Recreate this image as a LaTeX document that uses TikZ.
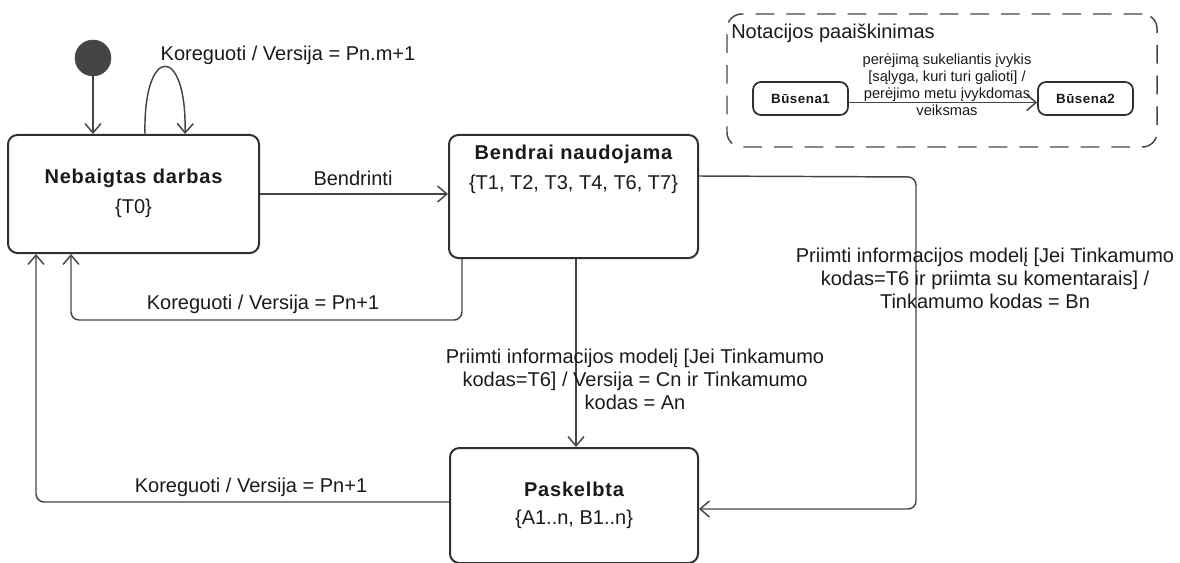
\documentclass[tikz,border=0pt]{standalone}
\usepackage{fontspec}
\setmainfont{Liberation Sans}
\usetikzlibrary{arrows.meta,calc}
\definecolor{lc}{HTML}{454545}
\definecolor{bc}{HTML}{303030}
\definecolor{tc}{HTML}{1A1A1A}
\newcommand{\wbf}[1]{{\bfseries\addfontfeature{LetterSpace=4}#1}}
\begin{document}
\begin{tikzpicture}[x=0.75pt,y=-0.75pt,
  conn/.style={draw=lc, line width=1.1pt},
  arr/.style={conn, -{Straight Barb[length=7pt,width=12pt]}, rounded corners=6pt},
  statebox/.style={draw=bc, line width=1.5pt, rounded corners=7pt, inner sep=0pt},
  smallbox/.style={draw=bc, line width=1.3pt, rounded corners=6pt, inner sep=0pt, text=tc,
    font=\fontsize{10pt}{12pt}\selectfont},
  lab/.style={font=\fontsize{15pt}{17.25pt}\selectfont, align=center, inner sep=0pt, text=tc},
  smalllab/.style={font=\fontsize{11pt}{12.75pt}\selectfont, align=center, inner sep=0pt, text=tc},
]
\useasboundingbox (0,0) rectangle (1180,563);

% states
\node[circle, fill=lc, draw=lc, minimum size=27pt, inner sep=0pt] (init) at (93,58) {};
\node[statebox, minimum width=188.25pt, minimum height=88.5pt] (neb) at (133.5,194) {};
\node[lab] (nebt) at (133.5,193) {\wbf{Nebaigtas darbas}\\[5.25pt]\{T0\}};
\node[statebox, minimum width=186.75pt, minimum height=92.25pt] (ben) at (573.5,196.5) {};
\node[lab] (bent) at (573.5,169) {\wbf{Bendrai naudojama}\\[5.25pt]\{T1, T2, T3, T4, T6, T7\}};
\node[statebox, minimum width=186pt, minimum height=86.25pt] (pas) at (574,505.5) {};
\node[lab] (past) at (574,505) {\wbf{Paskelbta}\\[3.75pt]\{A1..n, B1..n\}};

% helper coordinates
\coordinate (k1) at (71,320);
\coordinate (k2) at (36,502);
\coordinate (k3) at (916,177);
\coordinate (k4) at (916,509);
\coordinate (bs) at ($(ben.south west)+(128,0)$);
\coordinate (bk) at ($(ben.south west)+(14,0)$);

% connectors
\draw[arr] (init.south) -- (init.south |- neb.north);
\draw[arr] ($(neb.north)+(11.5,0)$) .. controls ($(neb.north)+(9.5,-90)$) and ($(neb.north)+(53.5,-90)$) .. ($(neb.north)+(51.5,0)$);
\draw[arr] (neb.east) -- (neb.east -| ben.west);
\draw[arr] (bk) |- (k1) -- (k1 |- neb.south);
\draw[arr] (bs) -- (bs |- pas.north);
\draw[arr] ($(pas.west)+(0,-3.5)$) -- (k2) -- (k2 |- neb.south);
\draw[arr] ($(ben.north east)+(0,42)$) -- (k3) -- (k4) -- (k4 -| pas.east);

% connector labels
\node[lab] (l1) at (288,55) {Koreguoti / Versija = Pn.m+1};
\node[lab] (l2) at (353,178) {Bendrinti};
\node[lab] (l3) at (263,304) {Koreguoti / Versija = Pn+1};
\node[lab] (l4) at (251,487) {Koreguoti / Versija = Pn+1};
\node[lab] (l5) at (635,379) {Priimti informacijos modelį [Jei Tinkamumo\\kodas=T6] / Versija = Cn ir Tinkamumo\\kodas = An};
\node[lab] (l6) at (985,278) {Priimti informacijos modelį [Jei Tinkamumo\\kodas=T6 ir priimta su komentarais] /\\Tinkamumo kodas = Bn};

% legend
\node[draw=lc, line width=1.1pt, dash pattern=on 14pt off 9pt, rounded corners=11pt,
  minimum width=322.5pt, minimum height=99.75pt, inner sep=0pt] (legend) at (942,80.5) {};
\node[lab, anchor=west] (title) at (731,33) {Notacijos paaiškinimas};
\node[smallbox, minimum width=71.25pt, minimum height=24.75pt] (b1) at (800.5,98.5) {\wbf{Būsena1}};
\node[smallbox, minimum width=71.25pt, minimum height=24.75pt] (b2) at (1085.5,98.5) {\wbf{Būsena2}};
\draw[arr] ($(b1.east)+(0,4)$) -- ($(b2.west)+(0,4)$);
\node[smalllab] (ll) at (947,85) {perėjimą sukeliantis įvykis\\{[sąlyga, kuri turi galioti] /}\\perėjimo metu įvykdomas\\veiksmas};
\end{tikzpicture}
\end{document}
